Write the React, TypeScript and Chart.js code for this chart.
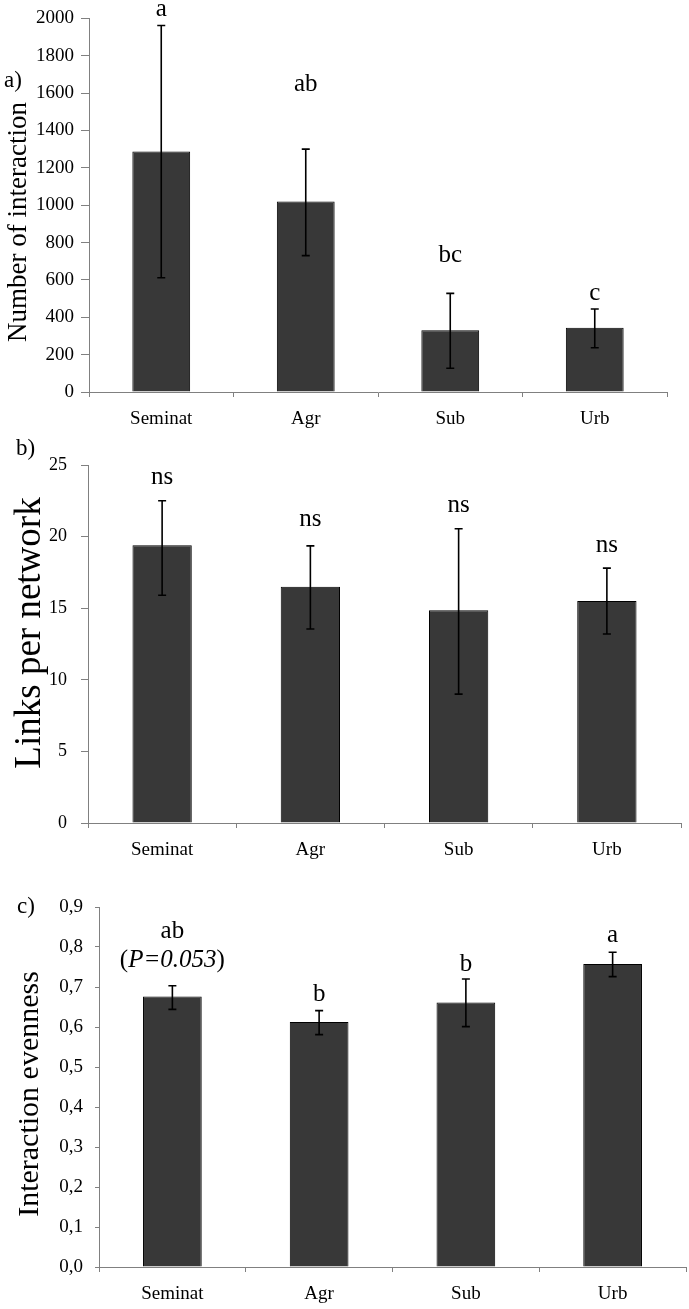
import React, { useEffect, useRef } from 'react';
import { Chart, registerables } from 'chart.js';

Chart.register(...registerables);

// ---------- data ----------
const categories = ['Seminat', 'Agr', 'Sub', 'Urb'];

const interactionMean = [1287, 1020, 331, 344];
const interactionLow = [612, 730, 127, 237];
const interactionHigh = [1962, 1300, 528, 444];
const interactionSig = ['a', 'ab', 'bc', 'c'];
const interactionSigAt = [2048, 1647, 733, 529];
const interactionTicks = ['0', '200', '400', '600', '800', '1000', '1200', '1400', '1600', '1800', '2000'];

const linksMean = [19.4, 16.5, 14.85, 15.5];
const linksLow = [15.9, 13.55, 9.0, 13.2];
const linksHigh = [22.5, 19.35, 20.55, 17.8];
const linksSig = ['ns', 'ns', 'ns', 'ns'];
const linksSigAt = [24.1, 21.2, 22.2, 19.35];
const linksTicks = ['0', '5', '10', '15', '20', '25'];

const evennessMean = [0.676, 0.6125, 0.661, 0.7575];
const evennessLow = [0.644, 0.581, 0.601, 0.726];
const evennessHigh = [0.703, 0.641, 0.72, 0.787];
const evennessSig = ['ab', 'b', 'b', 'a'];
const evennessSigAt = [0.838, 0.6825, 0.7575, 0.83];
const evennessNote = ['(P=0.053)', '', '', ''];
const evennessNoteAt = [0.7675, 0, 0, 0];
const evennessTicks = ['0,0', '0,1', '0,2', '0,3', '0,4', '0,5', '0,6', '0,7', '0,8', '0,9'];

// ---------- styles ----------
const SERIF = '"Liberation Serif", "Times New Roman", Times, serif';
const BAR_FILL = '#383838';
const AXIS = '#808080';
const LABEL_SIZE = 25;

type PanelCfg = {
  letter: string;
  letterX: number;
  letterY: number;
  top: number;
  height: number;
  padTop: number;
  padRight: number;
  yWidth: number;
  xHeight: number;
  yTickPad: number;
  yTickLen: number;
  tickSize: number;
  title: string;
  titleSize: number;
  titleInkX: number;
  titleInkY: number;
  max: number;
  step: number;
  tickLabels: string[];
  mean: number[];
  low: number[];
  high: number[];
  sig: string[];
  sigAt: number[];
  note?: string[];
  noteAt?: number[];
};

const panels: PanelCfg[] = [
  {
    letter: 'a)', letterX: 4, letterY: 80,
    top: 0, height: 440, padTop: 18, padRight: 22, yWidth: 89, xHeight: 48,
    yTickPad: 7, yTickLen: 8, tickSize: 19,
    title: 'Number of interaction', titleSize: 27, titleInkX: 17, titleInkY: 222,
    max: 2000, step: 200, tickLabels: interactionTicks,
    mean: interactionMean, low: interactionLow, high: interactionHigh,
    sig: interactionSig, sigAt: interactionSigAt,
  },
  {
    letter: 'b)', letterX: 16, letterY: 448,
    top: 440, height: 440, padTop: 25, padRight: 8, yWidth: 88, xHeight: 57,
    yTickPad: 14, yTickLen: 7, tickSize: 18,
    title: 'Links per network', titleSize: 37, titleInkX: 28, titleInkY: 633,
    max: 25, step: 5, tickLabels: linksTicks,
    mean: linksMean, low: linksLow, high: linksHigh,
    sig: linksSig, sigAt: linksSigAt,
  },
  {
    letter: 'c)', letterX: 17, letterY: 906,
    top: 880, height: 429, padTop: 27, padRight: 3, yWidth: 99, xHeight: 42,
    yTickPad: 12, yTickLen: 4, tickSize: 19,
    title: 'Interaction evenness', titleSize: 30, titleInkX: 28, titleInkY: 1094,
    max: 0.9, step: 0.1, tickLabels: evennessTicks,
    mean: evennessMean, low: evennessLow, high: evennessHigh,
    sig: evennessSig, sigAt: evennessSigAt,
    note: evennessNote, noteAt: evennessNoteAt,
  },
];

function makeOverlay(cfg: PanelCfg) {
  return {
    id: 'errorsAndLetters',
    afterDatasetsDraw(chart: any) {
      const ctx = chart.ctx as CanvasRenderingContext2D;
      const meta = chart.getDatasetMeta(0);
      const y = chart.scales.y;
      ctx.save();
      ctx.strokeStyle = '#000';
      ctx.lineWidth = 1.6;
      const cap = 4;
      meta.data.forEach((bar: any, i: number) => {
        const x = bar.x;
        const yl = y.getPixelForValue(cfg.low[i]);
        const yh = y.getPixelForValue(cfg.high[i]);
        ctx.beginPath();
        ctx.moveTo(x, yl);
        ctx.lineTo(x, yh);
        ctx.moveTo(x - cap, yl);
        ctx.lineTo(x + cap, yl);
        ctx.moveTo(x - cap, yh);
        ctx.lineTo(x + cap, yh);
        ctx.stroke();
      });
      ctx.fillStyle = '#000';
      ctx.textBaseline = 'middle';
      ctx.textAlign = 'center';
      const normal = `${LABEL_SIZE}px ${SERIF}`;
      const italic = `italic ${LABEL_SIZE}px ${SERIF}`;
      ctx.font = normal;
      meta.data.forEach((bar: any, i: number) => {
        ctx.fillText(cfg.sig[i], bar.x, y.getPixelForValue(cfg.sigAt[i]));
      });
      if (cfg.note && cfg.noteAt) {
        meta.data.forEach((bar: any, i: number) => {
          const t = cfg.note![i];
          if (!t) return;
          const yy = y.getPixelForValue(cfg.noteAt![i]);
          const open = t.slice(0, 1);
          const inner = t.slice(1, -1);
          const close = t.slice(-1);
          ctx.font = normal;
          const wo = ctx.measureText(open).width;
          const wc = ctx.measureText(close).width;
          ctx.font = italic;
          const wi = ctx.measureText(inner).width;
          let x0 = bar.x - (wo + wi + wc) / 2;
          ctx.textAlign = 'left';
          ctx.font = normal;
          ctx.fillText(open, x0, yy);
          x0 += wo;
          ctx.font = italic;
          ctx.fillText(inner, x0, yy);
          x0 += wi;
          ctx.font = normal;
          ctx.fillText(close, x0, yy);
          ctx.textAlign = 'center';
        });
      }
      // axis title (rotated), baseline placed so that ascender ink is centred on titleInkX
      const canvasTop = cfg.top;
      ctx.font = `${cfg.titleSize}px ${SERIF}`;
      ctx.textAlign = 'center';
      ctx.textBaseline = 'alphabetic';
      ctx.translate(cfg.titleInkX + 0.33 * cfg.titleSize, cfg.titleInkY - canvasTop);
      ctx.rotate(-Math.PI / 2);
      ctx.fillText(cfg.title, 0, 0);
      ctx.restore();
    },
  };
}

function Panel({ cfg }: { cfg: PanelCfg }) {
  const ref = useRef<HTMLCanvasElement>(null);
  useEffect(() => {
    const canvas = ref.current;
    if (!canvas) return;
    const chart = new Chart(canvas, {
      type: 'bar',
      data: {
        labels: categories,
        datasets: [
          {
            data: cfg.mean,
            backgroundColor: BAR_FILL,
            borderColor: '#000',
            borderWidth: 1,
            barPercentage: 0.4,
            categoryPercentage: 1,
          },
        ],
      },
      options: {
        responsive: false,
        animation: false,
        devicePixelRatio: 1,
        layout: { padding: { top: cfg.padTop, right: cfg.padRight, left: 0, bottom: 0 } },
        plugins: {
          legend: { display: false },
          tooltip: { enabled: false },
          title: { display: false },
        },
        scales: {
          x: {
            offset: true,
            grid: {
              display: true,
              drawOnChartArea: false,
              drawTicks: true,
              tickLength: 5,
              color: AXIS,
              offset: true,
            },
            border: { color: AXIS, width: 1 },
            ticks: {
              color: '#000',
              font: { family: SERIF, size: 19 },
              padding: 11,
              maxRotation: 0,
              autoSkip: false,
            },
            afterFit: (s: any) => {
              s.height = cfg.xHeight;
            },
          },
          y: {
            min: 0,
            max: cfg.max,
            ticks: {
              stepSize: cfg.step,
              color: '#000',
              font: { family: SERIF, size: cfg.tickSize },
              padding: cfg.yTickPad,
              callback: (v: any, i: number) => cfg.tickLabels[i] ?? String(v),
            },
            grid: {
              display: true,
              drawOnChartArea: false,
              drawTicks: true,
              tickLength: cfg.yTickLen,
              color: AXIS,
            },
            border: { color: AXIS, width: 1 },
            title: { display: false },
            afterFit: (s: any) => {
              s.width = cfg.yWidth;
            },
          },
        },
      },
      plugins: [makeOverlay(cfg)],
    } as any);
    return () => chart.destroy();
  }, [cfg]);
  return (
    <canvas
      ref={ref}
      width={689}
      height={cfg.height}
      style={{ position: 'absolute', left: 0, top: cfg.top, width: 689, height: cfg.height }}
    />
  );
}

export default function App() {
  return (
    <div
      style={{
        position: 'absolute',
        left: 0,
        top: 0,
        width: 689,
        height: 1309,
        background: '#fff',
        overflow: 'hidden',
      }}
    >
      {panels.map((p) => (
        <Panel key={p.letter} cfg={p} />
      ))}
      {panels.map((p) => (
        <div
          key={'l' + p.letter}
          style={{
            position: 'absolute',
            left: p.letterX,
            top: p.letterY - 12,
            fontFamily: SERIF,
            fontSize: 23,
            lineHeight: '24px',
            color: '#000',
          }}
        >
          {p.letter}
        </div>
      ))}
    </div>
  );
}
